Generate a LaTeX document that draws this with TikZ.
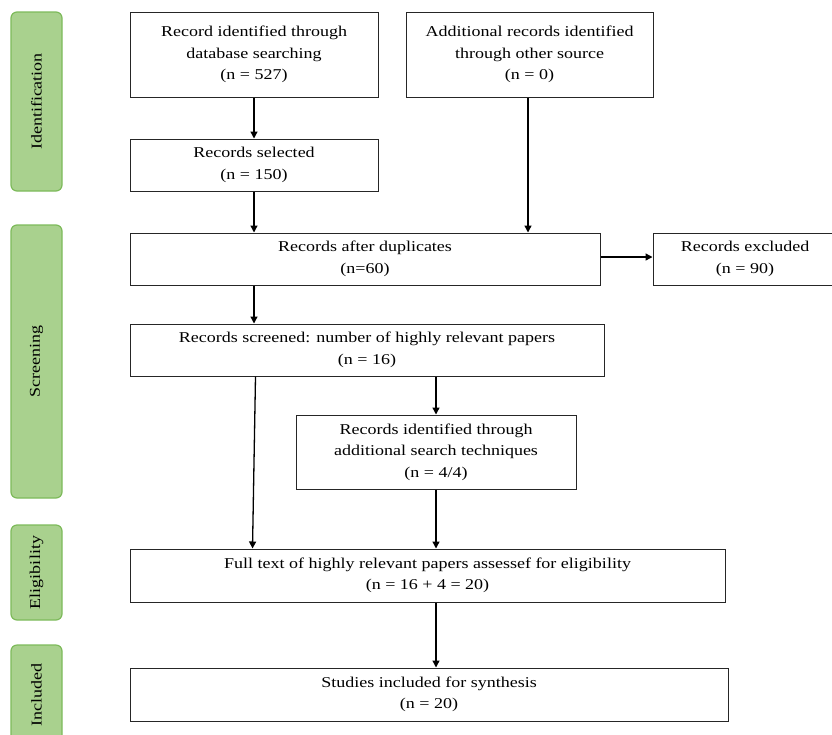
\documentclass[tikz,border=0pt]{standalone}
\usepackage{fontspec}
\setmainfont[FakeStretch=1.2]{Liberation Serif}
\usetikzlibrary{arrows.meta,calc}
\definecolor{barfill}{HTML}{A9D18E}
\definecolor{barline}{HTML}{7DBA5A}
\begin{document}
\begin{tikzpicture}[x=1pt,y=-1pt,
  box/.style={draw=black!85,line width=1pt,inner sep=0pt,align=center,
    font=\fontsize{15}{21.5}\selectfont},
  bar/.style={draw=barline,fill=barfill,line width=1.2pt,rounded corners=6pt,
    inner sep=0pt,minimum width=51pt,font=\fontsize{15}{18}\selectfont},
  arr/.style={draw=black,line width=1.3pt,-{Triangle[length=7pt,width=7pt]}}]
\useasboundingbox (0,0) rectangle (832,734);
\clip (0,0) rectangle (832,734);
% phase bars
\node[bar,minimum height=179pt] (idbar) at (36.5,101.5) {\rotatebox{90}{Identification}};
\node[bar,minimum height=273pt] (scbar) at (36.5,361.5) {\rotatebox{90}{Screening}};
\node[bar,minimum height=95pt] (elbar) at (36.5,572.5) {\rotatebox{90}{Eligibility}};
\node[bar,minimum height=100pt] (inbar) at (36.5,695) {\rotatebox{90}{Included}};
% boxes
\node[box,minimum width=248pt,minimum height=85pt] (B1) at (254,54.5)
  {Record identified through\\database searching\\(n = 527)};
\node[box,minimum width=247pt,minimum height=85pt] (B2) at (529.5,54.5)
  {Additional records identified\\through other source\\(n = 0)};
\node[box,minimum width=248pt,minimum height=52pt] (B3) at (254,165)
  {Records selected\\(n = 150)};
\node[box,minimum width=470pt,minimum height=52pt] (B4) at (365,259)
  {Records after duplicates\\(n=60)};
\node[box,minimum width=184pt,minimum height=52pt] (B5) at (745,259)
  {Records excluded\\(n = 90)};
\node[box,minimum width=474pt,minimum height=52pt] (B6) at (367,350)
  {Records screened: number of highly relevant papers\\(n = 16)};
\node[box,minimum width=280pt,minimum height=74pt] (B7) at (436,452)
  {Records identified through\\additional search techniques\\(n = 4/4)};
\node[box,minimum width=595pt,minimum height=53pt] (B8) at (427.5,575.5)
  {Full text of highly relevant papers assessef for eligibility\\(n = 16 + 4 = 20)};
\node[box,minimum width=598pt,minimum height=53pt] (B9) at (429,694.5)
  {Studies included for synthesis\\(n = 20)};
% connectors
\draw[arr] (B1.south) -- (B3.north);
\draw[arr] (B3.south) -- (B3.south |- B4.north);
\draw[arr] ($(B2.south)+(-1.5,0)$) -- ($(B2.south |- B4.north)+(-1.5,0)$);
\draw[arr] (B4.east |- 0,257) -- (B5.west |- 0,257);
\draw[arr] (B3.south |- B4.south) -- (B3.south |- B6.north);
\draw[arr] ($(B6.south west)+(126,0)$) -- ($(B8.north west)+(123,0)$);
\draw[arr] (B7.north |- B6.south) -- (B7.north);
\draw[arr] (B7.south) -- (B7.south |- B8.north);
\draw[arr] (B7.south |- B8.south) -- (B7.south |- B9.north);
\end{tikzpicture}
\end{document}
